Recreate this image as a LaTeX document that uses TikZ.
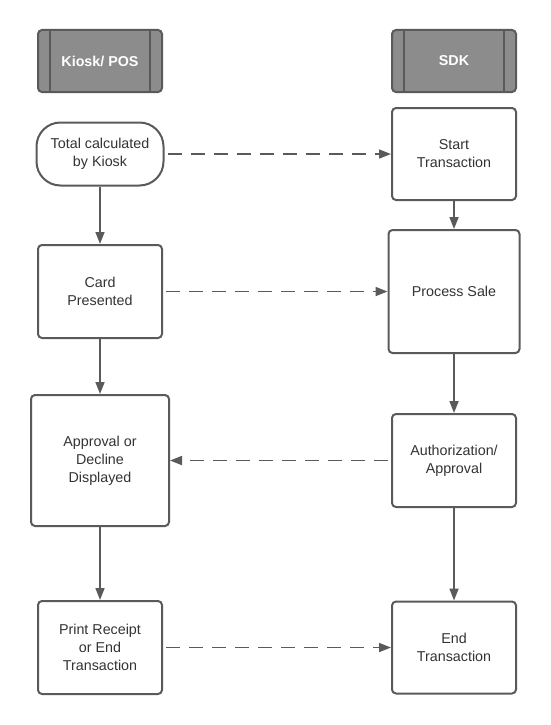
\documentclass[tikz,border=0pt]{standalone}
\usepackage{fontspec}
\setmainfont{Liberation Sans}
\usetikzlibrary{arrows.meta,calc}
\definecolor{ln}{HTML}{5A5A5A}
\definecolor{tx}{HTML}{333333}
\definecolor{hd}{HTML}{8C8C8C}
\tikzset{
  box/.style={draw=ln, line width=2pt, rounded corners=4pt, fill=white, align=center,
    text=tx, font=\fontsize{14.3}{18}\selectfont, inner sep=0pt},
  hdr/.style={box, fill=hd, text=white, font=\fontsize{14.3}{18}\selectfont\bfseries},
  conn/.style={draw=ln, line width=1.7pt, -{Triangle[length=12pt,width=9pt]}},
  dconn/.style={conn, dash pattern=on 14pt off 9pt, dash phase=-3pt},
}
\begin{document}
\begin{tikzpicture}[x=1pt,y=-1pt]
\useasboundingbox (0,0) rectangle (550,725);
% headers
\node[hdr, minimum width=124pt, minimum height=62pt] (kh) at (100,61) {Kiosk/ POS};
\node[hdr, minimum width=124pt, minimum height=62pt] (sh) at (454,61) {SDK};
\foreach \h in {kh,sh}{
  \draw[ln, line width=2pt] ($(\h.north west)+(13,0)$) -- ($(\h.south west)+(13,0)$);
  \draw[ln, line width=2pt] ($(\h.north east)+(-13,0)$) -- ($(\h.south east)+(-13,0)$);
}
% left column
\node[box, rounded corners=24pt, minimum width=127pt, minimum height=63pt] (tot) at (100,154) {Total calculated\\by Kiosk};
\node[box, minimum width=124pt, minimum height=93pt] (cp) at (100,291.5) {Card\\Presented};
\node[box, minimum width=138pt, minimum height=131pt] (ap) at (100,460.5) {Approval or\\Decline\\Displayed};
\node[box, minimum width=124pt, minimum height=93pt] (pr) at (100,647.5) {Print Receipt\\or End\\Transaction};
% right column
\node[box, minimum width=124pt, minimum height=92pt] (st) at (454,154) {Start\\Transaction};
\node[box, minimum width=131pt, minimum height=123pt] (ps) at (454,291.5) {Process Sale};
\node[box, minimum width=124pt, minimum height=93pt] (au) at (454,460.5) {Authorization/\\Approval};
\node[box, minimum width=124pt, minimum height=92pt] (en) at (454,647.5) {End\\Transaction};
% vertical connectors
\draw[conn] (tot) -- (cp);
\draw[conn] (cp) -- (ap);
\draw[conn] (ap) -- (pr);
\draw[conn] (st) -- (ps);
\draw[conn] (ps) -- (au);
\draw[conn] (au) -- (en);
% dashed connectors
\draw[dconn] (tot) -- (st);
\draw[dconn] (cp) -- (ps);
\draw[dconn] (au) -- (ap);
\draw[dconn] (pr) -- (en);
\end{tikzpicture}
\end{document}
